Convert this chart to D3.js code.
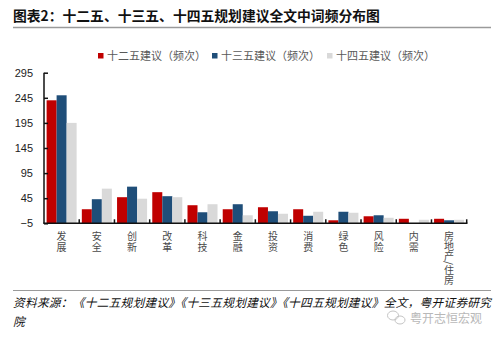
<!DOCTYPE html>
<html>
<head>
<meta charset="utf-8">
<script src="https://cdn.jsdelivr.net/npm/d3@7/dist/d3.min.js"></script>
<style>
  html, body { margin: 0; padding: 0; background: #fff; }
  svg { display: block; }
</style>
</head>
<body>
<svg id="chart" width="500" height="340"></svg>
<script>
// Word categories and frequency counts per planning proposal
const categories = ["发展", "安全", "创新", "改革", "科技", "金融", "投资", "消费", "绿色", "风险", "内需", "房地产/住房"];
const seriesNames = ["十二五建议（频次）", "十三五建议（频次）", "十四五建议（频次）"];
const plan12 = [240, 23, 47, 57, 31, 23, 27, 23, 1, 9, 4, 4];
const plan13 = [250, 43, 68, 49, 17, 33, 19, 10, 18, 11, null, 1];
const plan14 = [195, 64, 44, 47, 33, 11, 14, 18, 16, 6, 2, 2];
const yTicks = [-5, 45, 95, 145, 195, 245, 295];

const colors = ["#C00000", "#1F4E79", "#D9D9D9"];
const series = [plan12, plan13, plan14];

const svg = d3.select("#chart");
const cjk = "'Noto Sans CJK SC', 'Noto Sans', sans-serif";

// Title and rule
svg.append("text")
  .attr("x", 13).attr("y", 21)
  .attr("font-family", cjk).attr("font-weight", 700)
  .attr("font-size", 13.8).attr("fill", "#111")
  .text("图表2：十二五、十三五、十四五规划建议全文中词频分布图");
svg.append("line")
  .attr("x1", 13).attr("x2", 491).attr("y1", 27.5).attr("y2", 27.5)
  .attr("stroke", "#9a9a9a").attr("stroke-width", 1.5);

// Scales
const plot = { left: 44, right: 466.7, top: 72.7, bottom: 223.3 };
const y = d3.scaleLinear().domain([-5, 295]).range([plot.bottom, plot.top]);
const x0 = d3.scaleBand().domain(categories).range([plot.left, plot.right]).paddingInner(0).paddingOuter(0);
const x1 = d3.scaleBand().domain(d3.range(series.length)).range([0, x0.bandwidth()]).paddingInner(0).paddingOuter(0.26);

// Legend
const legendX = [98, 212, 327];
const legend = svg.append("g");
seriesNames.forEach((name, i) => {
  legend.append("rect")
    .attr("x", legendX[i]).attr("y", 53).attr("width", 5.5).attr("height", 5.5)
    .attr("fill", colors[i]);
  legend.append("text")
    .attr("x", legendX[i] + 9).attr("y", 60)
    .attr("font-family", cjk).attr("font-size", 11).attr("fill", "#595959")
    .text(name);
});

// Bars
const groups = svg.append("g").selectAll("g")
  .data(categories)
  .join("g")
  .attr("transform", d => `translate(${x0(d)},0)`);

groups.selectAll("rect")
  .data((d, ci) => series.map((s, si) => ({ si, v: s[ci] })).filter(e => e.v != null))
  .join("rect")
  .attr("x", e => x1(e.si))
  .attr("width", x1.bandwidth())
  .attr("y", e => y(e.v))
  .attr("height", e => y(-5) - y(e.v))
  .attr("fill", e => colors[e.si]);

// Y axis (inward ticks)
const yAxis = d3.axisLeft(y).tickValues(yTicks).tickSize(-4).tickPadding(11).tickFormat(d3.format("d"));
const gy = svg.append("g").attr("transform", `translate(${plot.left},0)`).call(yAxis);
gy.select(".domain").attr("stroke", "#111").attr("stroke-width", 1.5).attr("d", `M0,${plot.top}V${plot.bottom}`);
gy.selectAll(".tick line").attr("stroke", "#111").attr("stroke-width", 1.5);
gy.selectAll(".tick text")
  .attr("font-family", "'Liberation Sans', Arial, sans-serif")
  .attr("font-size", 11).attr("fill", "#222");

// X axis line with upward ticks at category boundaries
const gx = svg.append("g");
gx.append("line")
  .attr("x1", plot.left - 0.75).attr("x2", plot.right + 0.75)
  .attr("y1", plot.bottom).attr("y2", plot.bottom)
  .attr("stroke", "#111").attr("stroke-width", 1.5);
const bounds = categories.map(c => x0(c)).concat([x0.range()[1]]);
gx.selectAll("line.tk")
  .data(bounds.slice(1))
  .join("line")
  .attr("class", "tk")
  .attr("x1", d => d).attr("x2", d => d)
  .attr("y1", plot.bottom).attr("y2", plot.bottom - 4)
  .attr("stroke", "#111").attr("stroke-width", 1.5);

// Vertical category labels set in vertical writing mode
svg.append("g").selectAll("text")
  .data(categories)
  .join("text")
  .attr("x", d => x0(d) + x0.bandwidth() / 2)
  .attr("y", 231)
  .style("writing-mode", "vertical-rl")
  .style("letter-spacing", d => Array.from(d).length > 3 ? "0px" : "1.3px")
  .attr("font-family", cjk).attr("font-size", 10).attr("fill", "#4a4a4a")
  .text(d => d);

// Source rule and note
svg.append("line")
  .attr("x1", 13).attr("x2", 491).attr("y1", 290.5).attr("y2", 290.5)
  .attr("stroke", "#9a9a9a").attr("stroke-width", 1.2);
svg.append("text")
  .attr("x", 13).attr("y", 307)
  .attr("font-family", cjk).attr("font-style", "italic")
  .attr("font-size", 11.7).attr("fill", "#111")
  .attr("textLength", 478).attr("lengthAdjust", "spacing")
  .text("资料来源：《十二五规划建议》《十三五规划建议》《十四五规划建议》全文，粤开证券研究");
svg.append("text")
  .attr("x", 13).attr("y", 326)
  .attr("font-family", cjk).attr("font-style", "italic")
  .attr("font-size", 11.7).attr("fill", "#111")
  .text("院");

// Account mark
const mark = svg.append("g").attr("fill", "none").attr("stroke", "#c4c4c4").attr("stroke-width", 1);
mark.append("ellipse").attr("cx", 393).attr("cy", 315.5).attr("rx", 5.5).attr("ry", 4.5);
mark.append("ellipse").attr("cx", 400).attr("cy", 320).attr("rx", 5).attr("ry", 4);
svg.append("text")
  .attr("x", 410).attr("y", 322.5)
  .attr("font-family", cjk).attr("font-size", 12)
  .attr("fill", "#b8b8b8")
  .text("粤开志恒宏观");
</script>
</body>
</html>
